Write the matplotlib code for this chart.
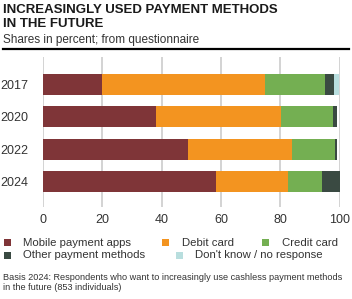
import matplotlib.pyplot as plt
from matplotlib.patches import Rectangle
from matplotlib.lines import Line2D
import numpy as np

plt.rcParams['font.family'] = ['Liberation Sans', 'DejaVu Sans']

years = ['2017', '2020', '2022', '2024']
series = ['Mobile payment apps', 'Debit card', 'Credit card',
          'Other payment methods', "Don't know / no response"]
mobile = [20.0, 38.0, 48.8, 58.3]
debit = [55.0, 42.2, 35.1, 24.2]
credit = [20.1, 17.6, 14.5, 11.6]
other = [3.2, 1.5, 0.9, 5.9]
dontknow = [1.5, 0.0, 0.0, 0.0]
colors = ['#7f3538', '#f39420', '#74af52', '#3a4a42', '#b8dede']

W, H = 352, 299
fig = plt.figure(figsize=(W / 100, H / 100), dpi=100)

def fx(px):
    return px / W

def fy(py):
    return 1 - py / H

ax = fig.add_axes([fx(43), fy(207), fx(339.5) - fx(43), fy(57) - fy(207)])

y = np.arange(len(years))
left = np.zeros(len(years))
for vals, c, name in zip([mobile, debit, credit, other, dontknow], colors, series):
    ax.barh(y, vals, left=left, height=0.64, color=c, label=name, zorder=3)
    left += np.array(vals)

ax.set_xlim(0, 100)
ax.set_ylim(3.77, -0.83)
ax.set_xticks([0, 20, 40, 60, 80, 100])
ax.set_yticks(y)
ax.set_yticklabels(years)
ax.grid(axis='x', color='#c8c8c8', linewidth=1.1, zorder=0)
ax.tick_params(axis='x', length=0, pad=5, labelsize=9, labelcolor='#333333')
ax.tick_params(axis='y', length=0, pad=10.5, labelsize=9, labelcolor='#333333')
for s in ax.spines.values():
    s.set_visible(False)

# title block
fig.text(fx(3), fy(10), 'INCREASINGLY USED PAYMENT METHODS', fontsize=9.5, fontweight='bold',
         color='#1a1a1a', va='center', ha='left')
fig.text(fx(3), fy(24), 'IN THE FUTURE', fontsize=9.5, fontweight='bold',
         color='#1a1a1a', va='center', ha='left')
fig.text(fx(3), fy(40), 'Shares in percent; from questionnaire', fontsize=8.5,
         color='#333333', va='center', ha='left')
fig.add_artist(Line2D([fx(3), fx(349)], [fy(49), fy(49)], color='black', linewidth=1.6))

# legend: (marker x, label x, row y, series index)
leg = [(4, 23, 242.5, 0), (161.5, 182, 242.5, 1), (262, 282, 242.5, 2),
       (4, 23, 255.5, 3), (176, 194.5, 255.5, 4)]
for mx, lx, py, i in leg:
    fig.add_artist(Rectangle((fx(mx), fy(py + 3.5)), fx(7), 7 / H,
                             facecolor=colors[i], edgecolor='none'))
    fig.text(fx(lx), fy(py), series[i], fontsize=8.2, color='#333333',
             va='center', ha='left')

# footnote
fig.text(fx(3), fy(278), 'Basis 2024: Respondents who want to increasingly use cashless payment methods',
         fontsize=6.6, color='#333333', va='center', ha='left')
fig.text(fx(3), fy(287), 'in the future (853 individuals)',
         fontsize=6.6, color='#333333', va='center', ha='left')

fig.savefig('out.png', dpi=100)
